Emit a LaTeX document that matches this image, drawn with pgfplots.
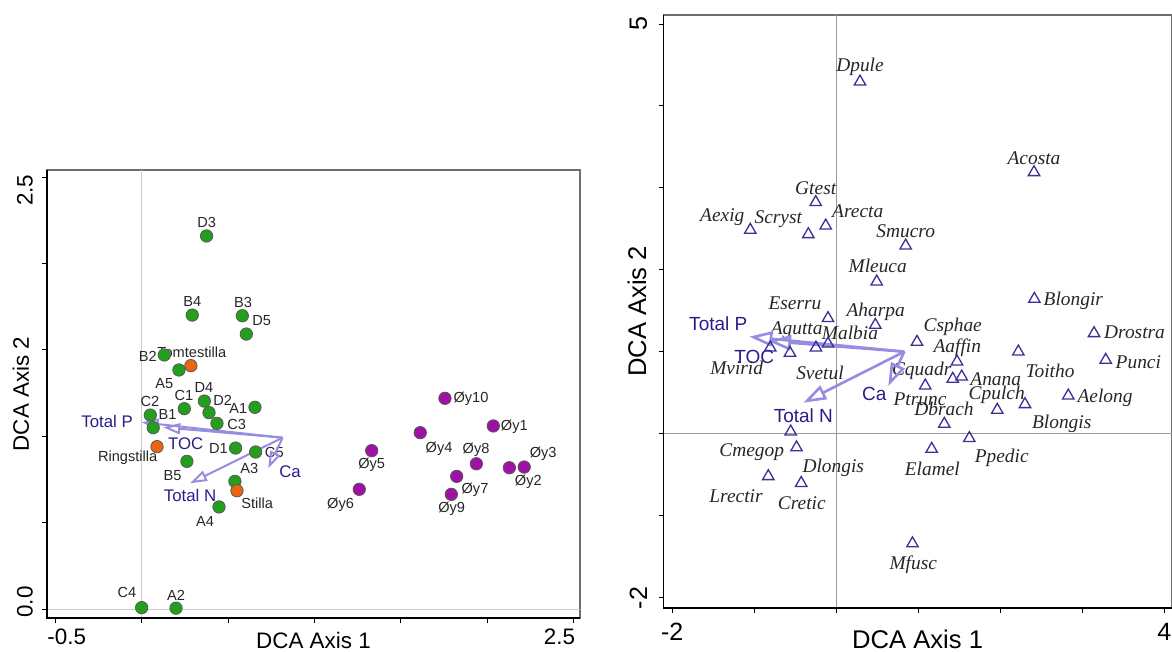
\documentclass[border=0pt]{standalone}
\usepackage{pgfplots}
\pgfplotsset{compat=1.18}
\usepackage{fontspec}
\setmainfont{Liberation Sans}
\newfontfamily\tnr{Liberation Serif}
\usetikzlibrary{arrows.meta}
\definecolor{grn}{RGB}{34,160,28}
\definecolor{org}{RGB}{236,100,18}
\definecolor{pur}{RGB}{160,16,164}
\definecolor{tri}{RGB}{58,48,150}
\definecolor{arr}{RGB}{150,140,225}
\definecolor{arrtxt}{RGB}{40,30,140}
\definecolor{frm}{RGB}{110,110,110}
\newcommand\slab[3]{\node[font=\fontsize{7.3}{8}\selectfont, text=black!85, inner sep=0pt] at (axis cs:#1,#2) {#3};}
\newcommand\alab[3]{\node[font=\fontsize{8.4}{9}\selectfont, text=arrtxt, inner sep=0pt] at (axis cs:#1,#2) {#3};}
\newcommand\blab[3]{\node[font=\fontsize{9.5}{10}\selectfont, text=arrtxt, inner sep=0pt] at (axis cs:#1,#2) {#3};}
\newcommand\splab[3]{\node[font=\tnr\itshape\fontsize{9.7}{10}\selectfont, text=black!85, inner sep=0pt] at (axis cs:#1,#2) {#3};}
\begin{document}
\begin{tikzpicture}
\useasboundingbox (0,0) rectangle (586pt,326pt);
% ---------------- left panel ----------------
\begin{axis}[
 at={(23.5pt,17pt)}, anchor=south west, scale only axis,
 width=266.5pt, height=224pt,
 xmin=-0.548, xmax=2.538, ymin=-0.052, ymax=2.542,
 xtick={-0.5,0,0.5,1,1.5,2,2.5},
 xticklabels={\hspace*{11.5pt}-0.5,,,,,,2.5\hspace*{14pt}},
 ytick={0,0.5,1,1.5,2,2.5},
 yticklabels={\hspace*{7pt}0.0,,,,,2.5\hspace*{13pt}},
 tick pos=left, tick align=outside, major tick length=2.5pt,
 major tick style={black, line width=0.5pt},
 axis line style={frm, line width=0.6pt},
 xticklabel style={font=\fontsize{11.2}{12}\selectfont, anchor=center, yshift=-7pt},
 yticklabel style={font=\fontsize{11.2}{12}\selectfont, anchor=center, xshift=-8.5pt, rotate=90},
 xlabel={DCA Axis 1}, ylabel={DCA Axis 2},
 every axis x label/.style={at={(axis description cs:0.5,0)}, anchor=center, yshift=-11pt, font=\fontsize{11.2}{12}\selectfont},
 every axis y label/.style={at={(axis description cs:-0.0488,0.5)}, anchor=center, rotate=90, font=\fontsize{11.2}{12}\selectfont},
 clip=false,
]
\addplot[black!20, line width=0.5pt] coordinates {(0,-0.052) (0,2.542)};
\addplot[black!20, line width=0.5pt] coordinates {(-0.548,0) (2.538,0)};
% sample labels
\slab{0.376}{2.237}{D3}
\slab{0.293}{1.779}{B4}
\slab{0.587}{1.774}{B3}
\slab{0.695}{1.668}{D5}
\slab{0.035}{1.461}{B2}
\slab{0.290}{1.484}{Tomtestilla}
\slab{0.131}{1.307}{A5}
\slab{0.245}{1.239}{C1}
\slab{0.361}{1.282}{D4}
\slab{0.469}{1.210}{D2}
\slab{0.559}{1.162}{A1}
\slab{0.048}{1.200}{C2}
\slab{0.150}{1.129}{B1}
\slab{0.550}{1.071}{C3}
\slab{0.444}{0.930}{D1}
\slab{0.768}{0.905}{C5}
\slab{-0.081}{0.878}{Ringstilla}
\slab{0.179}{0.772}{B5}
\slab{0.623}{0.815}{A3}
\slab{0.669}{0.612}{Stilla}
\slab{0.367}{0.506}{A4}
\slab{-0.085}{0.093}{C4}
\slab{0.199}{0.081}{A2}
\slab{1.907}{1.216}{Øy10}
\slab{2.158}{1.056}{Øy1}
\slab{1.722}{0.930}{Øy4}
\slab{1.332}{0.834}{Øy5}
\slab{1.936}{0.921}{Øy8}
\slab{2.325}{0.898}{Øy3}
\slab{2.239}{0.737}{Øy2}
\slab{1.930}{0.689}{Øy7}
\slab{1.795}{0.583}{Øy9}
\slab{1.152}{0.602}{Øy6}
% green samples
\addplot[only marks, mark=*, mark size=3.1pt, mark options={fill=grn, draw=black!65, line width=0.4pt}] table[row sep=\\] {
x y\\
0.376 2.160\\ 0.293 1.702\\ 0.583 1.698\\ 0.606 1.592\\ 0.131 1.471\\
0.216 1.384\\ 0.363 1.204\\ 0.247 1.160\\ 0.390 1.137\\ 0.656 1.168\\
0.050 1.123\\ 0.067 1.050\\ 0.436 1.075\\ 0.544 0.932\\ 0.660 0.909\\
0.262 0.855\\ 0.540 0.739\\ 0.448 0.591\\ 0.000 0.008\\ 0.199 0.005\\
};
% orange lakes
\addplot[only marks, mark=*, mark size=3.1pt, mark options={fill=org, draw=black!65, line width=0.4pt}] table[row sep=\\] {
x y\\
0.285 1.409\\ 0.089 0.940\\ 0.552 0.685\\
};
% purple
\addplot[only marks, mark=*, mark size=3.1pt, mark options={fill=pur, draw=black!65, line width=0.4pt}] table[row sep=\\] {
x y\\
2.036 1.060\\ 2.129 0.818\\ 2.215 0.822\\ 1.613 1.021\\ 1.332 0.917\\
1.260 0.693\\ 1.824 0.768\\ 1.938 0.841\\ 1.793 0.664\\ 1.756 1.220\\
};
% environmental arrows
\addplot[arr, line width=1pt, -{Triangle[open, length=8.5pt, width=5.5pt, line width=1pt]}] coordinates {(0.816,0.992) (0.000,1.081)};
\addplot[arr, line width=1pt, -{Triangle[open, length=8.5pt, width=5.5pt, line width=1pt]}] coordinates {(0.816,0.992) (0.125,1.052)};
\addplot[arr, line width=1pt, -{Triangle[open, length=8.5pt, width=5.5pt, line width=1pt]}] coordinates {(0.816,0.992) (0.280,0.728)};
\addplot[arr, line width=1pt, -{Triangle[open, length=8.5pt, width=5.5pt, line width=1pt]}] coordinates {(0.816,0.992) (0.733,0.815)};
\alab{-0.200}{1.085}{Total P}
\alab{0.255}{0.955}{TOC}
\alab{0.280}{0.660}{Total N}
\alab{0.859}{0.795}{Ca}
\draw[black, line width=0.75pt] (rel axis cs:0,1) -- (rel axis cs:0,0) -- (rel axis cs:1,0);
\end{axis}
% ---------------- right panel ----------------
\begin{axis}[
 at={(331.75pt,22pt)}, anchor=south west, scale only axis,
 width=254.1pt, height=296.5pt,
 xmin=-2.107, xmax=4.090, ymin=-2.122, ymax=5.110,
 xtick={-2,-1,0,1,2,3,4}, xticklabels={-2,,,,,,4},
 ytick={-2,-1,0,1,2,3,4,5}, yticklabels={-2,,,,,,,5},
 tick pos=left, tick align=outside, major tick length=2.5pt,
 major tick style={black, line width=0.5pt},
 axis line style={frm, line width=0.6pt},
 xticklabel style={font=\fontsize{12.5}{13}\selectfont, anchor=center, yshift=-9.5pt},
 yticklabel style={font=\fontsize{12.5}{13}\selectfont, anchor=center, xshift=-10pt, rotate=90},
 xlabel={DCA Axis 1}, ylabel={DCA Axis 2},
 every axis x label/.style={at={(axis description cs:0.5,0)}, anchor=center, yshift=-15.5pt, font=\fontsize{12.8}{13}\selectfont},
 every axis y label/.style={at={(axis description cs:-0.052,0.5)}, anchor=center, rotate=90, font=\fontsize{12.8}{13}\selectfont},
 clip=false,
]
\addplot[black!40, line width=0.5pt] coordinates {(0,-2.122) (0,5.110)};
\addplot[black!40, line width=0.5pt] coordinates {(-2.107,0) (4.090,0)};
\addplot[only marks, mark=triangle, mark size=3.3pt, mark options={draw=tri, line width=0.65pt}] table[row sep=\\] {
x y\\
0.289 4.296\\ -0.251 2.826\\ -0.129 2.540\\ -0.341 2.435\\ -1.049 2.488\\
0.846 2.296\\ 2.411 3.191\\ 2.415 1.646\\ 3.143 1.228\\ 0.493 1.857\\
0.476 1.329\\ -0.101 1.411\\ -0.101 1.100\\ -0.248 1.052\\ -0.565 0.988\\
-0.805 1.052\\ 0.984 1.122\\ 2.220 1.004\\ 3.285 0.902\\ 1.472 0.882\\
1.529 0.699\\ 1.420 0.671\\ 1.085 0.589\\ 1.963 0.293\\ 2.301 0.362\\
2.829 0.467\\ 1.317 0.122\\ 1.622 -0.052\\ 1.163 -0.183\\ -0.556 0.028\\
-0.485 -0.165\\ -0.829 -0.516\\ -0.428 -0.599\\ 0.929 -1.335\\
};
\splab{0.289}{4.479}{Dpule}
\splab{-0.251}{2.996}{Gtest}
\splab{0.261}{2.723}{Arecta}
\splab{-0.707}{2.622}{Scryst}
\splab{-1.390}{2.650}{Aexig}
\splab{0.846}{2.479}{Smucro}
\splab{2.411}{3.362}{Acosta}
\splab{2.890}{1.622}{Blongir}
\splab{3.637}{1.235}{Drostra}
\splab{0.505}{2.049}{Mleuca}
\splab{0.480}{1.491}{Aharpa}
\splab{-0.504}{1.594}{Eserru}
\splab{0.167}{1.235}{Malbia}
\splab{-0.483}{1.268}{Agutta}
\splab{-0.199}{0.748}{Svetul}
\splab{-1.215}{0.801}{Mvirid}
\splab{1.420}{1.309}{Csphae}
\splab{1.476}{1.057}{Aaffin}
\splab{1.041}{0.768}{Cquadr}
\splab{1.944}{0.667}{Anana}
\splab{2.606}{0.768}{Toitho}
\splab{3.683}{0.870}{Punci}
\splab{1.021}{0.427}{Ptrunc}
\splab{1.956}{0.476}{Cpulch}
\splab{3.277}{0.443}{Aelong}
\splab{1.313}{0.305}{Dbrach}
\splab{2.749}{0.122}{Blongis}
\splab{2.017}{-0.296}{Ppedic}
\splab{1.171}{-0.427}{Elamel}
\splab{-1.032}{-0.223}{Cmegop}
\splab{-0.037}{-0.418}{Dlongis}
\splab{-1.223}{-0.756}{Lrectir}
\splab{-0.420}{-0.839}{Cretic}
\splab{0.938}{-1.596}{Mfusc}
\addplot[arr, line width=1.3pt, -{Triangle[open, length=11.5pt, width=7.5pt, line width=1.3pt]}] coordinates {(0.829,1.004) (-1.061,1.187)};
\addplot[arr, line width=1.3pt, -{Triangle[open, length=11.5pt, width=7.5pt, line width=1.3pt]}] coordinates {(0.829,1.004) (-0.833,1.134)};
\addplot[arr, line width=1.3pt, -{Triangle[open, length=11.5pt, width=7.5pt, line width=1.3pt]}] coordinates {(0.829,1.004) (-0.402,0.382)};
\addplot[arr, line width=1.3pt, -{Triangle[open, length=11.5pt, width=7.5pt, line width=1.3pt]}] coordinates {(0.829,1.004) (0.634,0.585)};
\blab{-1.439}{1.350}{Total P}
\blab{-1.000}{0.943}{TOC}
\blab{-0.402}{0.223}{Total N}
\blab{0.463}{0.484}{Ca}
\draw[black, line width=0.75pt] (rel axis cs:0,1) -- (rel axis cs:0,0) -- (rel axis cs:1,0);
\end{axis}
\end{tikzpicture}
\end{document}
